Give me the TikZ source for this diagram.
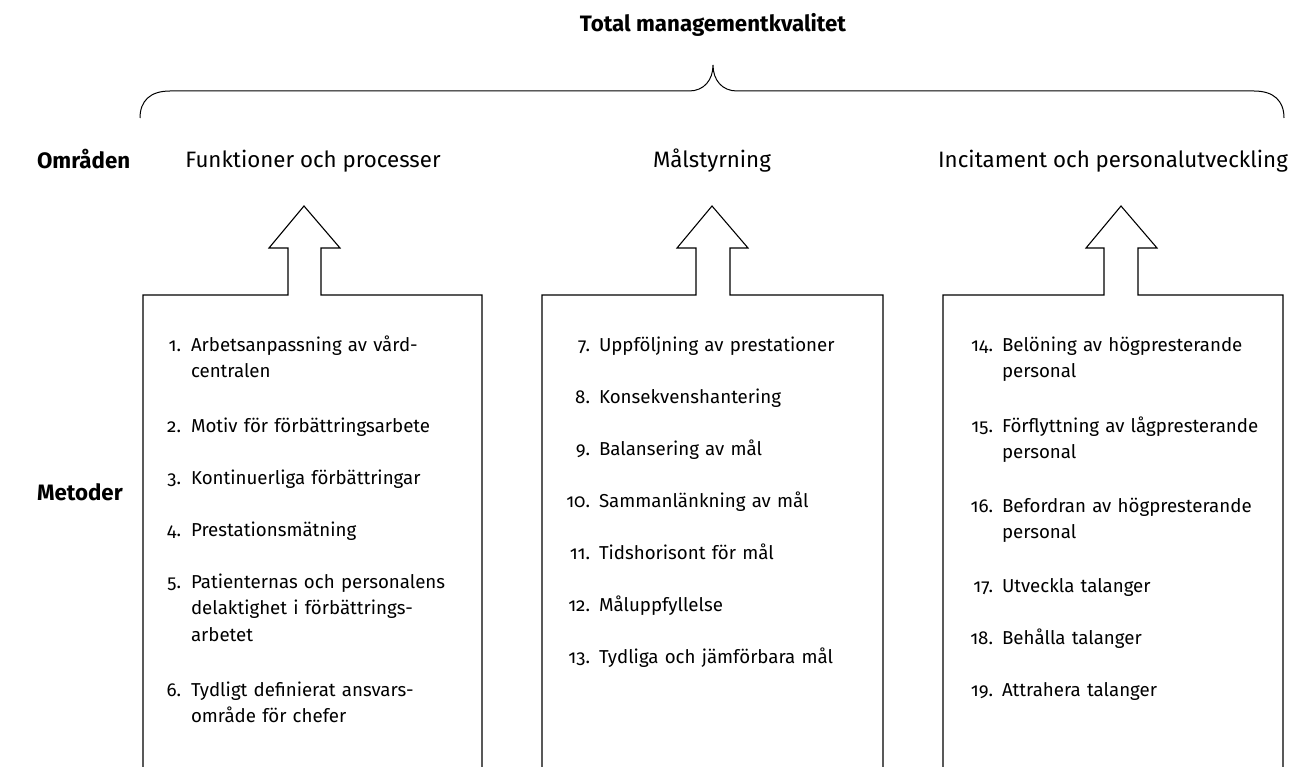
\documentclass[tikz,border=0pt]{standalone}
\usepackage{fontspec}
\setmainfont{Fira Sans}[Numbers=OldStyle]
\usetikzlibrary{positioning}

\begin{document}
\begin{tikzpicture}[
    x=1pt, y=-1pt,
    every node/.style={inner sep=0pt, outer sep=0pt},
    title/.style={font=\fontsize{22.3}{25}\selectfont\bfseries, anchor=base},
    side/.style={font=\fontsize{22.3}{25}\selectfont\bfseries, anchor=base west},
    heading/.style={font=\fontsize{22.3}{26}\selectfont, anchor=base},
    num/.style={font=\fontsize{18.7}{26.7}\selectfont, anchor=base east},
    item/.style={font=\fontsize{18.7}{26.7}\selectfont, anchor=base west, align=left, text width=280pt},
    outline/.style={draw, line width=1.1pt, line join=miter}
]
    \useasboundingbox (0,0) rectangle (1290,767);

    % Top label and brace
    \node[title] (total) at (713,32) {Total managementkvalitet};
    \draw[line width=1pt] (140,118) .. controls (140,101) and (150,91) .. (170,91)
        -- (689,91) .. controls (704,91) and (713,80) .. (713,65)
        .. controls (713,80) and (722,91) .. (737,91)
        -- (1254,91) .. controls (1274,91) and (1284,101) .. (1284,118);

    % Row labels
    \node[side] (omr) at (37,169) {Områden};
    \node[side] (met) at (37,500) {Metoder};

    % Areas
    \node[heading] (funk) at (313,168) {Funktioner och processer};
    \node[heading] (mal) at (712,168) {Målstyrning};
    \node[heading] (incit) at (1113,168) {Incitament och personalutveckling};

    % Boxes with arrows
    \draw[outline] (143,767) -- (143,295) -- (288,295) -- (288,248) -- (269,248) -- (304,206)
        -- (340,248) -- (321,248) -- (321,295) -- (482,295) -- (482,767);
    \draw[outline] (542,767) -- (542,295) -- (696,295) -- (696,248) -- (677,248) -- (712,206)
        -- (748,248) -- (730,248) -- (730,295) -- (883,295) -- (883,767);
    \draw[outline] (943,767) -- (943,295) -- (1104,295) -- (1104,248) -- (1086,248) -- (1121,206)
        -- (1157,248) -- (1138,248) -- (1138,295) -- (1283,295) -- (1283,767);

    % Methods: Funktioner och processer
    \node[num] (n1) at (181,351) {1.};
    \node[item] (f1) at (191,351) {Arbetsanpassning av vård-\\centralen};
    \node[num] (n2) at (181,432) {2.};
    \node[item] (f2) at (191,432) {Motiv för förbättringsarbete};
    \node[num] (n3) at (181,484) {3.};
    \node[item] (f3) at (191,484) {Kontinuerliga förbättringar};
    \node[num] (n4) at (181,536) {4.};
    \node[item] (f4) at (191,536) {Prestationsmätning};
    \node[num] (n5) at (181,588) {5.};
    \node[item] (f5) at (191,588) {Patienternas och personalens\\delaktighet i förbättrings-\\arbetet};
    \node[num] (n6) at (181,696) {6.};
    \node[item] (f6) at (191,696) {Tydligt definierat ansvars-\\område för chefer};

    % Methods: Målstyrning
    \node[num] (n7) at (590,351) {7.};
    \node[item] (m7) at (599,351) {Uppföljning av prestationer};
    \node[num] (n8) at (590,403) {8.};
    \node[item] (m8) at (599,403) {Konsekvenshantering};
    \node[num] (n9) at (590,455) {9.};
    \node[item] (m9) at (599,455) {Balansering av mål};
    \node[num] (n10) at (590,507) {10.};
    \node[item] (m10) at (599,507) {Sammanlänkning av mål};
    \node[num] (n11) at (590,559) {11.};
    \node[item] (m11) at (599,559) {Tidshorisont för mål};
    \node[num] (n12) at (590,611) {12.};
    \node[item] (m12) at (599,611) {Måluppfyllelse};
    \node[num] (n13) at (590,663) {13.};
    \node[item] (m13) at (599,663) {Tydliga och jämförbara mål};

    % Methods: Incitament och personalutveckling
    \node[num] (n14) at (993,351) {14.};
    \node[item] (i14) at (1002,351) {Belöning av högpresterande\\personal};
    \node[num] (n15) at (993,432) {15.};
    \node[item] (i15) at (1002,432) {Förflyttning av lågpresterande\\personal};
    \node[num] (n16) at (993,512) {16.};
    \node[item] (i16) at (1002,512) {Befordran av högpresterande\\personal};
    \node[num] (n17) at (993,592) {17.};
    \node[item] (i17) at (1002,592) {Utveckla talanger};
    \node[num] (n18) at (993,644) {18.};
    \node[item] (i18) at (1002,644) {Behålla talanger};
    \node[num] (n19) at (993,696) {19.};
    \node[item] (i19) at (1002,696) {Attrahera talanger};
\end{tikzpicture}
\end{document}
